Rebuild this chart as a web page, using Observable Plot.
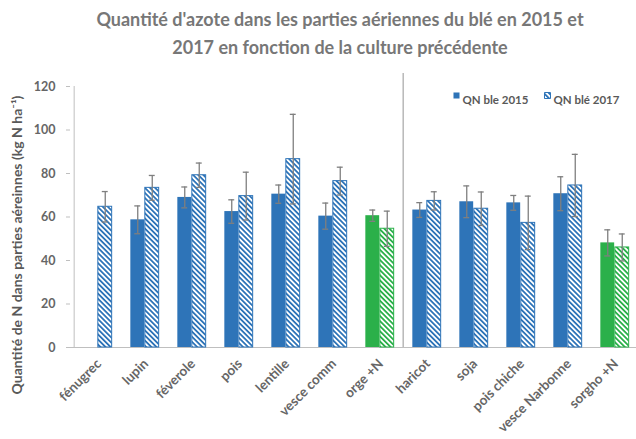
<!DOCTYPE html>
<html>
<head>
<meta charset="utf-8">
<script src="https://cdn.jsdelivr.net/npm/d3@7"></script>
<script src="https://cdn.jsdelivr.net/npm/@observablehq/plot@0.6"></script>
<style>
  html, body { margin: 0; padding: 0; background: white; }
  #title { height: 62px; box-sizing: border-box; padding-top: 5px; padding-left: 44px; width: 636px;
    text-align: center; font-family: Lato, sans-serif; font-weight: bold; font-size: 18px; line-height: 28px; color: #777; }
  #chart svg { display: block; }
</style>
</head>
<body>
<div id="title">Quantité d'azote dans les parties aériennes du blé en 2015 et<br>2017 en fonction de la culture précédente</div>
<div id="chart"></div>
<script>
const categories = ["fénugrec","lupin","féverole","pois","lentille","vesce comm","orge +N","haricot","soja","pois chiche","vesce Narbonne","sorgho +N"];
const qn2015  = [null, 58.7, 69.0, 62.5, 70.5, 60.4, 60.6, 63.2, 67.0, 66.5, 70.7, 48.1];
const err2015 = [null,  6.4,  4.8,  5.4,  4.2,  6.0,  2.6,  3.4,  7.3,  3.4,  7.8,  6.0];
const qn2017  = [64.7, 73.4, 79.2, 69.6, 86.6, 76.5, 54.6, 67.4, 63.8, 57.3, 74.5, 46.0];
const err2017 = [ 7.0,  5.7,  5.6, 11.0, 20.6,  6.4,  8.1,  4.2,  7.7, 12.3, 14.3,  6.2];
const controls = ["orge +N", "sorgho +N"];
const years = ["QN ble 2015", "QN blé 2017"];
const yTicks = [0, 20, 40, 60, 80, 100, 120];
const yLabel = "Quantité de N dans parties aéreinnes (kg N ha⁻¹)";
const splitBefore = "haricot";

const blue = "#2e74b8", green = "#2bb04a", gray = "#666";
const W = 636, ML = 70, MR = -6;
const S = (W - ML - MR) / categories.length;
const bw = 14.5, capHalf = 3.3;

const rows = (vals, errs) => categories.map((c, i) => ({cat: c, v: vals[i], e: errs[i], ctrl: controls.includes(c)})).filter(d => d.v != null);
const r15 = rows(qn2015, err2015), r17 = rows(qn2017, err2017);

const in15 = {insetLeft: S/2 - bw, insetRight: S/2};
const in17 = {insetLeft: S/2, insetRight: S/2 - bw};
const c15 = S/2 - bw/2, c17 = S/2 + bw/2;
const cap15 = {insetLeft: c15 - capHalf, insetRight: S - c15 - capHalf};
const cap17 = {insetLeft: c17 - capHalf, insetRight: S - c17 - capHalf};
const errStyle = {stroke: "#7f7f7f", strokeWidth: 1.3};

const chart = Plot.plot({
  width: W, height: 377,
  marginLeft: ML, marginRight: MR, marginTop: 24, marginBottom: 92,
  x: {domain: categories, padding: 0, axis: null},
  y: {domain: [0, 120], axis: null},
  style: {fontFamily: "Lato, sans-serif", fontWeight: "bold", fontSize: "12px", color: gray, background: "white", overflow: "visible"},
  marks: [
    Plot.ruleY([0], {stroke: "#bfbfbf", insetLeft: -4}),
    Plot.ruleX([categories[0]], {x: d => d, dx: -S/2, stroke: "#bfbfbf"}),
    Plot.ruleX([splitBefore], {x: d => d, dx: -S/2, insetTop: -13, stroke: "#a6a6a6", strokeWidth: 1.2}),
    Plot.axisY({ticks: yTicks, label: null, tickSize: 4, tickPadding: 11, stroke: "#bfbfbf", fill: gray, fontSize: 12.5}),
    Plot.barY(r15.filter(d => !d.ctrl), {x: "cat", y: "v", fill: blue, ...in15}),
    Plot.barY(r15.filter(d => d.ctrl), {x: "cat", y: "v", fill: green, ...in15}),
    Plot.barY(r17.filter(d => !d.ctrl), {x: "cat", y: "v", fill: "url(#hatchBlue)", stroke: blue, strokeWidth: 1, ...in17}),
    Plot.barY(r17.filter(d => d.ctrl), {x: "cat", y: "v", fill: "url(#hatchGreen)", stroke: green, strokeWidth: 1, ...in17}),
    Plot.ruleX(r15, {x: "cat", y1: d => d.v - d.e, y2: d => d.v + d.e, dx: -bw/2, ...errStyle}),
    Plot.ruleX(r17, {x: "cat", y1: d => d.v - d.e, y2: d => d.v + d.e, dx: bw/2, ...errStyle}),
    Plot.tickY(r15, {x: "cat", y: d => d.v + d.e, ...cap15, ...errStyle}),
    Plot.tickY(r15, {x: "cat", y: d => d.v - d.e, ...cap15, ...errStyle}),
    Plot.tickY(r17, {x: "cat", y: d => d.v + d.e, ...cap17, ...errStyle}),
    Plot.tickY(r17, {x: "cat", y: d => d.v - d.e, ...cap17, ...errStyle}),
    Plot.text(categories, {x: d => d, text: d => d, frameAnchor: "bottom", rotate: -45, textAnchor: "end", lineAnchor: "middle", dx: 1, dy: 14, fontSize: 13.5, fill: gray}),
    Plot.text([yLabel], {text: d => d, frameAnchor: "left", textAnchor: "middle", lineAnchor: "middle", rotate: -90, dx: -53, dy: 28, fontSize: 14, fill: "#595959"}),
    Plot.dot([years[0]], {frameAnchor: "top-right", dx: -186, dy: 9, symbol: "square", r: 3.4, fill: blue}),
    Plot.text([years[0]], {text: d => d, frameAnchor: "top-right", textAnchor: "start", dx: -180, dy: 9, fontSize: 11.5, fill: "#595959"}),
    Plot.dot([years[1]], {frameAnchor: "top-right", dx: -95, dy: 9, symbol: "square", r: 3.4, fill: "url(#hatchBlue)", stroke: blue, strokeWidth: 1}),
    Plot.text([years[1]], {text: d => d, frameAnchor: "top-right", textAnchor: "start", dx: -89, dy: 9, fontSize: 11.5, fill: "#595959"})
  ]
});

const defs = d3.select(chart).insert("defs", ":first-child");
function hatch(id, color) {
  const p = defs.append("pattern").attr("id", id).attr("patternUnits", "userSpaceOnUse")
    .attr("width", 3.6).attr("height", 3.6).attr("patternTransform", "rotate(45)");
  p.append("rect").attr("width", 3.6).attr("height", 3.6).attr("fill", "white");
  p.append("rect").attr("width", 3.6).attr("height", 1.8).attr("fill", color);
}
hatch("hatchBlue", blue);
hatch("hatchGreen", green);

document.getElementById("chart").appendChild(chart);
</script>
</body>
</html>
